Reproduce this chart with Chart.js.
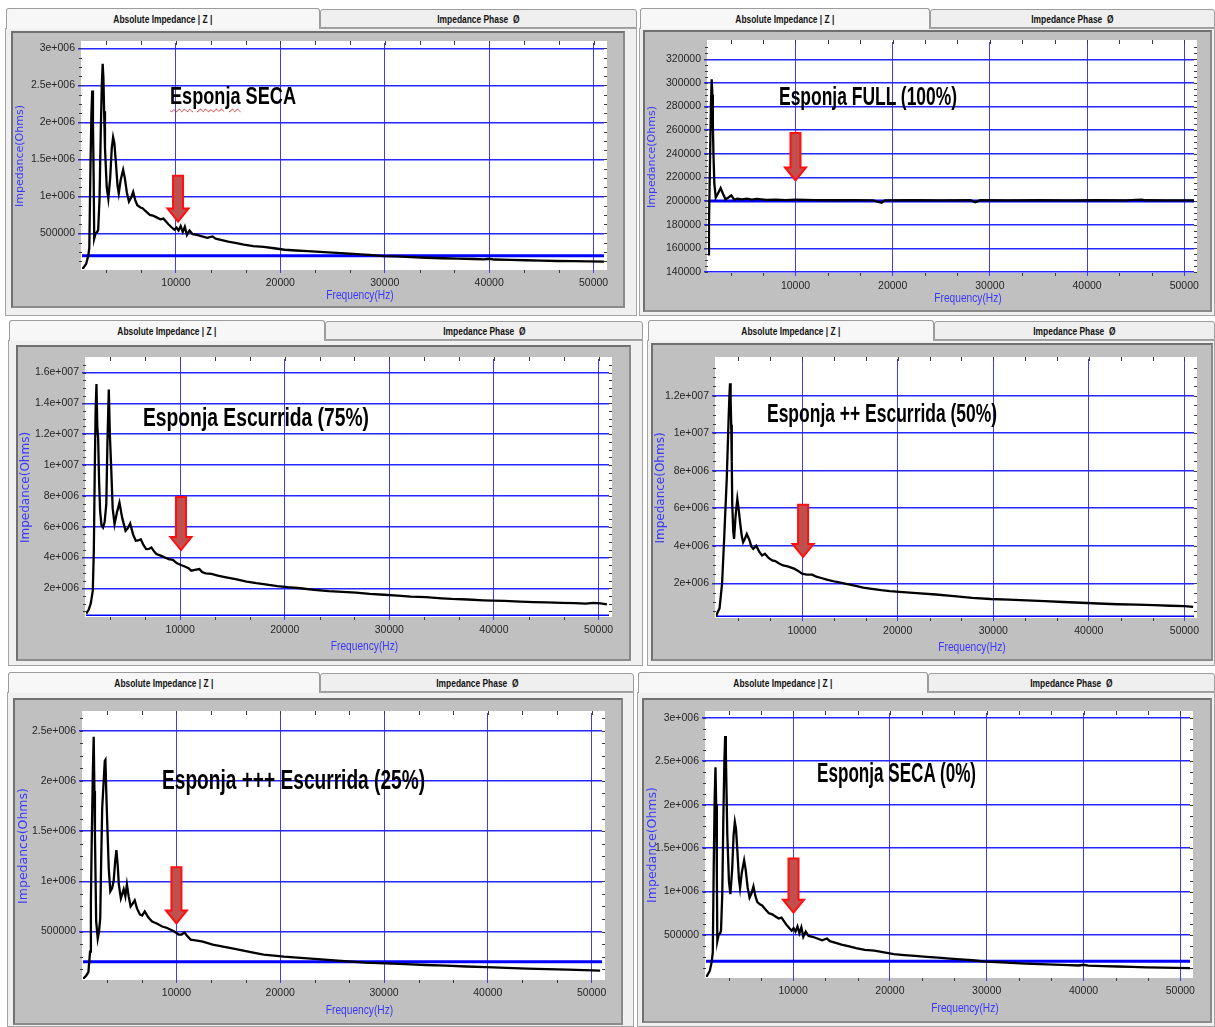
<!DOCTYPE html>
<html><head><meta charset="utf-8">
<script src="https://cdn.jsdelivr.net/npm/chart.js@4.4.1/dist/chart.umd.min.js"></script>
<style>
html,body{margin:0;padding:0;background:#fff;}
body{width:1215px;height:1027px;position:relative;overflow:hidden;}
.win{position:absolute;background:#f0f0f0;border:1px solid #a4a4a4;box-sizing:border-box;}
.tab{position:absolute;box-sizing:border-box;border:1px solid #9c9c9c;border-bottom:none;background:#f7f7f7;
 font:bold 10.5px 'Liberation Sans',sans-serif;color:#111;text-align:center;border-radius:3px 3px 0 0;white-space:nowrap;}
.tab span{display:inline-block;transform:scaleX(0.8);transform-origin:50% 50%;}
.tab.off{background:#efefef;border-bottom:1px solid #9c9c9c;}
.frame{position:absolute;box-sizing:border-box;background:#c0c0c0;border:2px solid #707070;border-right-color:#8a8a8a;border-bottom-color:#8a8a8a;}
.frame canvas{position:absolute;left:0;top:0;}
.ttl{position:absolute;white-space:nowrap;transform-origin:0 0;color:#000;font-weight:bold;
 font-family:'Liberation Sans',sans-serif;}
.sq{text-decoration-line:underline;text-decoration-style:wavy;text-decoration-color:#e02020;text-decoration-thickness:1px;text-underline-offset:4px;}
</style></head><body>
<script>
// ---------------- DATA ----------------
const xTicks = [10000, 20000, 30000, 40000, 50000];
const yTicksSeca = [500000, 1000000, 1500000, 2000000, 2500000, 3000000];
const yTicksFull = [140000, 160000, 180000, 200000, 220000, 240000, 260000, 280000, 300000, 320000];
const yTicks75 = [2000000, 4000000, 6000000, 8000000, 10000000, 12000000, 14000000, 16000000];
const yTicks50 = [2000000, 4000000, 6000000, 8000000, 10000000, 12000000];
const yTicks25 = [500000, 1000000, 1500000, 2000000, 2500000];

const titles = ["Esponja SECA", "Esponja FULL (100%)", "Esponja Escurrida (75%)", "Esponja ++ Escurrida (50%)", "Esponja +++ Escurrida (25%)", "Esponja SECA (0%)"];
const tabLabels = ["Absolute Impedance | Z |", "Impedance Phase \u00A0\u00D8"];
const yTitle = "Impedance(Ohms)";
const xTitle = "Frequency(Hz)";

const baselineFreq = [1000, 51000];
const baselineZ = [200000, 200000];

const secaFreq = [850,1100,1400,1600,1700,1800,1900,1980,2050,2120,2170,2300,2450,2550,2680,2800,2900,2980,3050,3120,3200,3370,3520,3700,3850,3980,4100,4250,4400,4520,4700,4940,5100,5300,5500,5700,5900,6100,6300,6600,6800,7100,7500,7800,8100,8500,8800,9050,9300,9600,9850,10050,10250,10450,10650,10850,11050,11300,11600,12000,12500,13000,13500,13800,14400,15000,15800,16500,17400,18400,19400,20400,21500,22600,23800,25000,26200,27300,28500,29900,31000,32500,34000,35500,37000,38500,39500,40000,40500,42000,43500,45000,46500,48000,49500,51000];
const secaZ = [20000,30000,90000,200000,300000,1310000,2100000,2430000,2000000,1200000,430000,500000,520000,550000,970000,1900000,2500000,2790000,2600000,2150000,1660000,1120000,970000,1250000,1650000,1800000,1720000,1450000,1150000,1040000,1220000,1360000,1250000,1050000,930000,980000,1060000,950000,880000,850000,840000,800000,750000,740000,720000,690000,700000,660000,620000,580000,550000,580000,540000,600000,520000,590000,480000,540000,490000,480000,460000,440000,460000,430000,410000,390000,370000,350000,330000,320000,300000,280000,270000,260000,250000,240000,230000,220000,210000,195000,190000,180000,172000,165000,160000,155000,150000,158000,148000,143000,138000,133000,128000,126000,122000,120000];

const fullFreq = [1000,1100,1200,1300,1380,1450,1500,1560,1650,1800,2000,2300,2550,2800,3100,3400,3700,4000,4500,5000,5500,6000,7000,8000,9000,10000,12000,14000,16000,18000,18850,19200,22000,25000,28000,28500,29000,32000,35000,38000,41000,44000,45600,46000,48000,51000];
const fullZ = [155000,180000,230000,280000,303000,290000,265000,240000,215000,203000,206000,211000,206000,201500,203000,204800,201000,202000,201500,202000,201200,201800,201000,201300,200800,201200,200800,200700,200800,200600,198600,200600,200700,200600,200700,199000,200700,200600,200700,200600,200700,200600,201300,200700,200600,200600];

const esc75Freq = [1000,1250,1450,1650,1750,1840,1920,2000,2080,2160,2250,2350,2480,2630,2780,2940,3050,3180,3280,3410,3550,3730,3950,4200,4450,4780,5000,5220,5500,5760,6000,6240,6500,6750,7000,7250,7500,7730,8200,8600,8900,9300,9700,10080,10500,10800,11060,11400,11840,12100,12430,13000,13600,14390,15300,16350,17300,18310,19300,20270,21500,22800,24200,25500,26800,28120,29500,30800,32040,33500,35000,35960,37500,39000,39880,41000,42500,43800,45000,46500,47710,48800,49500,50200,50800];
const esc75Z = [340000,600000,1000000,1850000,4500000,9800000,13500000,15250000,12500000,11750000,9000000,7000000,6100000,5940000,6300000,7450000,11500000,14900000,12000000,9800000,7200000,6160000,6900000,7560000,6600000,5730000,5900000,6200000,5500000,5080000,5100000,5180000,4800000,4540000,4550000,4650000,4400000,4220000,4100000,3980000,3890000,3850000,3620000,3510000,3400000,3300000,3140000,3200000,3250000,3050000,2970000,2930000,2820000,2710000,2590000,2430000,2330000,2240000,2140000,2070000,2000000,1900000,1810000,1770000,1720000,1640000,1580000,1520000,1460000,1420000,1350000,1310000,1270000,1220000,1200000,1180000,1130000,1100000,1080000,1050000,1030000,1000000,1050000,1020000,950000];

const esc50Freq = [1000,1060,1370,1635,1860,2130,2320,2420,2470,2530,2590,2650,2700,2800,2890,3050,3230,3380,3540,3700,3840,4000,4220,4500,4700,4900,5210,5500,5820,6120,6500,6880,7200,7600,8020,8500,9160,9600,10000,10500,11060,11500,12000,12590,13500,14490,15500,16390,17300,18290,19200,20190,22000,24000,25900,27800,29700,31600,33500,35400,37300,39200,41000,43000,45000,46800,48500,50000,50910];
const esc50Z = [300000,340000,660000,1980000,4450000,7640000,10800000,12200000,12670000,11800000,10460000,8500000,6220000,4800000,4370000,5600000,6490000,5900000,5160000,4500000,4190000,4350000,4630000,4300000,3950000,3840000,4000000,3700000,3480000,3570000,3350000,3220000,3180000,3050000,2950000,2900000,2780000,2650000,2510000,2460000,2460000,2350000,2280000,2190000,2080000,1980000,1870000,1770000,1700000,1630000,1580000,1540000,1470000,1400000,1310000,1220000,1160000,1130000,1090000,1050000,1000000,960000,920000,880000,860000,830000,800000,780000,740000];

const esc25Freq = [1000,1300,1520,1680,1760,1840,1950,2030,2100,2150,2270,2420,2540,2660,2750,2850,3010,3100,3160,3240,3320,3480,3630,3800,3950,4100,4220,4350,4450,4650,4920,5080,5230,5400,5590,5800,5980,6200,6480,6700,6950,7300,7660,8100,8630,9000,9410,9800,10200,10500,10780,11000,11370,12000,12540,13500,14490,15500,16450,17400,18400,19400,20350,22300,24260,26200,28160,30100,32070,34000,35980,37900,39880,41800,43790,45700,47700,49300,50820];
const esc25Z = [28000,60000,95000,300000,800000,1400000,2090000,2440000,1900000,1460000,600000,430000,500000,630000,1200000,1730000,2030000,2200000,2210000,1900000,1630000,1130000,900000,930000,1000000,1200000,1310000,1150000,970000,830000,920000,850000,970000,850000,750000,780000,810000,730000,670000,660000,700000,640000,600000,580000,550000,540000,520000,500000,470000,470000,490000,460000,420000,410000,400000,370000,350000,330000,310000,290000,270000,260000,250000,235000,220000,205000,190000,182000,175000,167000,160000,152000,145000,138000,130000,125000,120000,115000,110000];

// red arrow annotations (frequency, top value, tip value)
const arrowMarks = [
  {x:10200, top:1280000, tip:660000},
  {x:10000, top:257700, tip:217500},
  {x:10080, top:7920000, tip:4480000},
  {x:10110, top:6190000, tip:3400000},
  {x:10000, top:1140000, tip:580000},
  {x:10040, top:1380000, tip:757000}
];

const panelData = [
  {freq:secaFreq,  z:secaZ,  yMin:20000,  yMax:3071000,  yTicks:yTicksSeca},
  {freq:fullFreq,  z:fullZ,  yMin:140000, yMax:334600,   yTicks:yTicksFull},
  {freq:esc75Freq, z:esc75Z, yMin:200000, yMax:16880000, yTicks:yTicks75},
  {freq:esc50Freq, z:esc50Z, yMin:200000, yMax:13960000, yTicks:yTicks50},
  {freq:esc25Freq, z:esc25Z, yMin:27400,  yMax:2676000,  yTicks:yTicks25},
  {freq:secaFreq,  z:secaZ,  yMin:17500,  yMax:3054000,  yTicks:yTicksSeca}
];

// ---------------- LAYOUT (page pixels) ----------------
const panelLayout = [
  {win:[5,637,316], ty:8,   split:320, frame:[11,31,625,308],   plot:[82,43,604,269],   tt:{x:170,base:104,fs:24,w:126,sq:true}, yfs:11,   xdy:27},
  {win:[639,1215,316], ty:8, split:930, frame:[643,30,1212,312], plot:[708,42,1194,272], tt:{x:779,base:105,fs:25,w:178}, yfs:11,   xdy:27},
  {win:[8,643,666], ty:320, split:325, frame:[16,345,631,661],   plot:[86,359,609,616],  tt:{x:143,base:426,fs:25,w:226}, yfs:12,   xdy:31},
  {win:[647,1215,666], ty:320, split:934, frame:[651,343,1213,661], plot:[716,359,1194,617], tt:{x:767,base:422,fs:26,w:230}, yfs:12, xdy:31},
  {win:[7,634,1027], ty:672, split:320, frame:[13,698,623,1025],  plot:[83,713,602,979],  tt:{x:162,base:790,fs:28,w:263}, yfs:12.5, xdy:32},
  {win:[637,1215,1027], ty:672, split:928, frame:[642,698,1212,1023], plot:[706,713,1190,977], tt:{x:817,base:783,fs:28,w:159}, yfs:12.5, xdy:32}
];

const FONT_T = "'Liberation Sans',Arial,sans-serif";

function fmtY(v){
  if (v >= 1e6){ const p = v.toExponential().split('e'); return p[0] + 'e+' + String(Math.abs(+p[1])).padStart(3,'0'); }
  return String(v);
}
function pts(f, z){ const n = Math.min(f.length, z.length); const out=[]; for(let i=0;i<n;i++) out.push({x:f[i], y:z[i]}); return out; }
function mk(cls, box, parent){
  const d=document.createElement('div'); d.className=cls;
  d.style.left=box[0]+'px'; d.style.top=box[1]+'px'; d.style.width=box[2]+'px'; d.style.height=box[3]+'px';
  (parent||document.body).appendChild(d); return d;
}

const decor = {
  id:'decor',
  beforeDraw(chart){
    const a=chart.chartArea, ctx=chart.ctx;
    ctx.save(); ctx.fillStyle='#fff';
    ctx.fillRect(a.left-1, a.top-2, a.right-a.left+4, a.bottom-a.top+3);
    ctx.restore();
  },
  afterDraw(chart, args, o){
    const ctx=chart.ctx, a=chart.chartArea, xs=chart.scales.x, ys=chart.scales.y;
    ctx.save();
    ctx.strokeStyle='#3a3a3a'; ctx.lineWidth=1; ctx.beginPath();
    for(let k=1;k<=15;k++){
      const px=Math.round(xs.getPixelForValue(k*10000/3))+0.5;
      ctx.moveTo(px,a.top-2); ctx.lineTo(px,a.top+2);
      if(k%3){ ctx.moveTo(px,a.bottom+1); ctx.lineTo(px,a.bottom+4); }
    }
    const st=o.minorStep;
    for(let v=Math.ceil(ys.min/st)*st; v<=ys.max; v+=st){
      const py=Math.round(ys.getPixelForValue(v))+0.5;
      ctx.moveTo(a.left-3,py); ctx.lineTo(a.left,py);
      ctx.moveTo(a.right,py); ctx.lineTo(a.right+3,py);
    }
    ctx.stroke();
    // arrow
    const ar=o.arrow;
    const px=xs.getPixelForValue(ar.x), y0=ys.getPixelForValue(ar.top), y1=ys.getPixelForValue(ar.tip);
    const sw=5, hw=10.5, hh=13;
    ctx.beginPath();
    ctx.moveTo(px-sw,y0); ctx.lineTo(px+sw,y0); ctx.lineTo(px+sw,y1-hh); ctx.lineTo(px+hw,y1-hh);
    ctx.lineTo(px,y1); ctx.lineTo(px-hw,y1-hh); ctx.lineTo(px-sw,y1-hh); ctx.closePath();
    ctx.fillStyle='#c0504d'; ctx.fill(); ctx.strokeStyle='#ff1010'; ctx.lineWidth=2; ctx.stroke();
    // x-axis title (slightly right of centre, as in the original software)
    ctx.fillStyle='#3838ff'; ctx.font='12px '+FONT_T; ctx.textAlign='center'; ctx.textBaseline='middle';
    const cx=(a.left+a.right)/2+17, cy=a.bottom+o.xdy;
    ctx.translate(cx,cy); ctx.scale(0.85,1.05);
    ctx.fillText(o.xTitle, 0, 0);
    ctx.restore();
  }
};

panelLayout.forEach((L,i)=>{
  const D=panelData[i];
  const wx0=L.win[0], wx1=L.win[1], wy1=L.win[2];
  mk('win',[wx0, L.ty+20, wx1-wx0, wy1-(L.ty+20)]);
  const t1=mk('tab',[wx0+1, L.ty, L.split-(wx0+1), 21]); t1.style.lineHeight='20px';
  const s1=document.createElement('span'); s1.textContent=tabLabels[0]; t1.appendChild(s1);
  const t2=mk('tab off',[L.split, L.ty+1, wx1-L.split, 19]); t2.style.lineHeight='18px';
  const s2=document.createElement('span'); s2.textContent=tabLabels[1]; t2.appendChild(s2);
  const F=L.frame; const fr=mk('frame',[F[0],F[1],F[2]-F[0],F[3]-F[1]]);
  const iw=F[2]-F[0]-4, ih=F[3]-F[1]-4, ix0=F[0]+2, iy0=F[1]+2;
  const cv=document.createElement('canvas'); cv.width=iw; cv.height=ih; cv.style.width=iw+'px'; cv.style.height=ih+'px'; fr.appendChild(cv);
  const yW=L.plot[0]-ix0, pT=L.plot[1]-iy0, pR=(ix0+iw)-L.plot[2], xH=(iy0+ih)-L.plot[3];
  const datasets=[
    {data:pts(D.freq,D.z), borderColor:'#000', borderWidth:2.3, pointRadius:0, tension:0},
    {data:pts(baselineFreq,baselineZ), borderColor:'#0000ff', borderWidth:3, pointRadius:0}
  ];
  new Chart(cv,{
    type:'line',
    data:{datasets},
    plugins:[decor],
    options:{
      responsive:false, animation:false, devicePixelRatio:1,
      layout:{padding:{left:0, top:pT, right:pR, bottom:0}},
      plugins:{legend:{display:false}, tooltip:{enabled:false},
        decor:{arrow:arrowMarks[i], minorStep:(D.yTicks[1]-D.yTicks[0])/4, xTitle:xTitle, xdy:L.xdy}},
      scales:{
        x:{type:'linear', min:1000, max:51000,
          afterBuildTicks:s=>{ s.ticks=xTicks.map(v=>({value:v})); },
          afterFit:s=>{ s.height=xH; },
          grid:{color:'#3c3cff', lineWidth:1, tickLength:4, drawTicks:true},
          border:{display:false},
          ticks:{color:'#262626', font:{family:FONT_T, size:10.5}, padding:4, maxRotation:0, autoSkip:false, callback:v=>String(v)}},
        y:{type:'linear', min:D.yMin, max:D.yMax,
          afterBuildTicks:s=>{ s.ticks=D.yTicks.map(v=>({value:v})); },
          afterFit:s=>{ s.width=yW; },
          grid:{color:'#2626ff', lineWidth:1.5, tickLength:4, drawTicks:true},
          border:{display:false},
          ticks:{color:'#262626', font:{family:FONT_T, size:10.5}, padding:3, autoSkip:false, callback:v=>fmtY(v)},
          title:{display:true, text:yTitle, color:'#3838ff', font:{family:"'DejaVu Sans',sans-serif", size:L.yfs}, padding:{top:1,bottom:0}}}
      }
    }
  });
  const T=L.tt;
  const td=document.createElement('div'); td.className='ttl';
  td.style.fontSize=T.fs+'px'; td.style.lineHeight=T.fs+'px';
  td.style.left=T.x+'px'; td.style.top=(T.base-0.8465*T.fs)+'px';
  const txt=titles[i];
  if(T.sq){ const sp=txt.indexOf(' '); const s=document.createElement('span'); s.className='sq'; s.textContent=txt.slice(0,sp); td.appendChild(s); td.appendChild(document.createTextNode(txt.slice(sp))); }
  else td.textContent=txt;
  document.body.appendChild(td);
  const w=td.getBoundingClientRect().width;
  if(w>0) td.style.transform='scaleX('+(T.w/w).toFixed(3)+')';
});
</script>
</body></html>
